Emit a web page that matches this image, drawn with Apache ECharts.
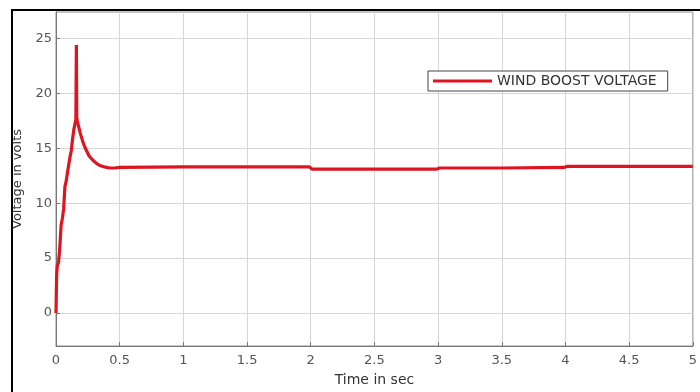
<!DOCTYPE html>
<html>
<head>
<meta charset="utf-8">
<script src="https://cdn.jsdelivr.net/npm/echarts@6/dist/echarts.min.js"></script>
<style>html,body{margin:0;padding:0;background:#fff;}#chart{width:700px;height:392px;}</style>
</head>
<body>
<div id="chart"></div>
<script>
// Time (s) and voltage (V)
const timeSec = [0, 0.005, 0.01, 0.02, 0.03, 0.04, 0.05, 0.06, 0.07, 0.08, 0.09, 0.1, 0.11, 0.12, 0.13, 0.14, 0.15, 0.156, 0.16, 0.163, 0.167, 0.175, 0.19, 0.21, 0.23, 0.26, 0.29, 0.32, 0.35, 0.38, 0.42, 0.46, 0.5, 1.0, 1.5, 1.99, 2.01, 2.5, 2.99, 3.01, 3.5, 3.99, 4.01, 4.5, 5.0];
const windBoostVoltage = [0, 3.5, 4.3, 4.6, 6.0, 8.0, 8.6, 9.5, 11.5, 12.0, 12.8, 13.5, 14.2, 14.8, 15.8, 16.7, 17.3, 17.6, 24.4, 17.8, 17.5, 17.1, 16.4, 15.6, 15.0, 14.3, 13.9, 13.6, 13.4, 13.3, 13.2, 13.2, 13.25, 13.3, 13.3, 13.3, 13.1, 13.1, 13.1, 13.2, 13.2, 13.25, 13.35, 13.35, 13.35];
const yTickValues = [0, 5, 10, 15, 20, 25];
const seriesName = 'WIND BOOST VOLTAGE';
const xAxisTitle = 'Time in sec';
const yAxisTitle = 'Voltage in volts';

const font = 'DejaVu Sans';
const chart = echarts.init(document.getElementById('chart'), null, {renderer: 'canvas'});
chart.setOption({
  animation: false,
  backgroundColor: '#ffffff',
  grid: {left: 56, right: 2, top: 12, bottom: 39, show: true, borderColor: '#8c8c8c', borderWidth: 1, containLabel: false},
  legend: {
    data: [seriesName], left: 428, top: 71, icon: 'rect', itemWidth: 59, itemHeight: 3,
    padding: [3, 11, 3, 5], borderColor: '#444', borderWidth: 1, backgroundColor: '#fff',
    textStyle: {fontFamily: font, fontSize: 14, color: '#333'}
  },
  xAxis: {
    type: 'value', min: 0, max: 5, interval: 0.5,
    name: xAxisTitle, nameLocation: 'middle', nameGap: 27,
    nameTextStyle: {fontFamily: font, fontSize: 14, color: '#333'},
    axisLine: {show: true, onZero: false, lineStyle: {color: '#777', width: 1}},
    axisTick: {show: true, inside: true, length: 4, lineStyle: {color: '#777'}},
    axisLabel: {fontFamily: font, fontSize: 13, color: '#555', margin: 8},
    splitLine: {show: true, lineStyle: {color: '#d6d6d6', width: 1}}
  },
  yAxis: {
    type: 'value', min: -3, max: 27.4,
    name: yAxisTitle, nameLocation: 'middle', nameGap: 26,
    nameTextStyle: {fontFamily: font, fontSize: 13, color: '#333'},
    axisLine: {show: true, lineStyle: {color: '#777', width: 1}},
    axisTick: {show: true, inside: true, length: 4, lineStyle: {color: '#777'}, customValues: yTickValues},
    axisLabel: {fontFamily: font, fontSize: 13, color: '#555', margin: 4, customValues: yTickValues},
    splitLine: {show: true, lineStyle: {color: '#d6d6d6', width: 1}}
  },
  graphic: [{
    type: 'rect', shape: {x: 12, y: 10, width: 720, height: 420},
    style: {fill: 'none', stroke: '#000', lineWidth: 2}, silent: true, z: 100
  }],
  series: [{
    name: seriesName, type: 'line', showSymbol: false, smooth: false,
    data: timeSec.map((t, i) => [t, windBoostVoltage[i]]),
    lineStyle: {color: '#de1520', width: 3.2}, itemStyle: {color: '#de1520'}
  }]
});
</script>
</body>
</html>
